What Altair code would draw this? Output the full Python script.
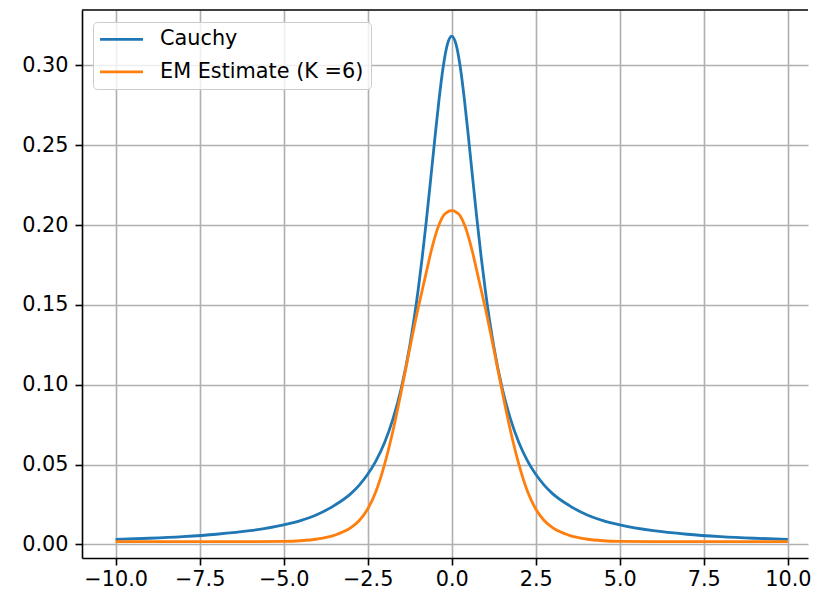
import altair as alt
import pandas as pd

x_vals = [-10, -9, -8, -7, -6, -5, -4.5, -4, -3.5, -3, -2.75, -2.5, -2.25, -2,
          -1.75, -1.5, -1.25, -1, -0.875, -0.75, -0.625, -0.5, -0.375, -0.25,
          -0.125, 0, 0.125, 0.25, 0.375, 0.5, 0.625, 0.75, 0.875, 1, 1.25, 1.5,
          1.75, 2, 2.25, 2.5, 2.75, 3, 3.5, 4, 4.5, 5, 6, 7, 8, 9, 10]

cauchy = [0.00315, 0.00388, 0.00490, 0.00637, 0.00860, 0.01224, 0.01492, 0.01872,
          0.02431, 0.03183, 0.03718, 0.04390, 0.05250, 0.06366, 0.07846, 0.09794,
          0.12420, 0.15915, 0.18028, 0.20372, 0.22890, 0.25465, 0.27906, 0.29959,
          0.31341, 0.31831, 0.31341, 0.29959, 0.27906, 0.25465, 0.22890, 0.20372,
          0.18028, 0.15915, 0.12420, 0.09794, 0.07846, 0.06366, 0.05250, 0.04390,
          0.03718, 0.03183, 0.02431, 0.01872, 0.01492, 0.01224, 0.00860, 0.00637,
          0.00490, 0.00388, 0.00315]

em_estimate = [0.0018, 0.0018, 0.0018, 0.0018, 0.0018, 0.0019, 0.0023, 0.0034,
               0.0057, 0.0105, 0.0150, 0.0222, 0.0335, 0.0500, 0.0710, 0.0960,
               0.1225, 0.1480, 0.1595, 0.1710, 0.1825, 0.1925, 0.2003, 0.2058,
               0.2082, 0.2090, 0.2082, 0.2058, 0.2003, 0.1925, 0.1825, 0.1710,
               0.1595, 0.1480, 0.1225, 0.0960, 0.0710, 0.0500, 0.0335, 0.0222,
               0.0150, 0.0105, 0.0057, 0.0034, 0.0023, 0.0019, 0.0018, 0.0018,
               0.0018, 0.0018, 0.0018]

series_names = ["Cauchy", "EM Estimate (K =6)"]
series_colors = ["#1f77b4", "#ff7f0e"]
x_ticks = [-10.0, -7.5, -5.0, -2.5, 0.0, 2.5, 5.0, 7.5, 10.0]
y_ticks = [0.00, 0.05, 0.10, 0.15, 0.20, 0.25, 0.30]

rows = []
for name, ys in zip(series_names, [cauchy, em_estimate]):
    for i, (xv, yv) in enumerate(zip(x_vals, ys)):
        rows.append({"x": xv, "y": yv, "series": name, "order": i})
df = pd.DataFrame(rows)

W, H = 726, 548
FONT = "DejaVu Sans"
FS = 20.8

lines = alt.Chart(df).mark_line(strokeWidth=2.8, interpolate="monotone").encode(
    x=alt.X("x:Q",
            scale=alt.Scale(domain=[-11, 10.6], nice=False, zero=False),
            axis=alt.Axis(values=x_ticks, format=".1f", title=None, labelPadding=4)),
    y=alt.Y("y:Q",
            scale=alt.Scale(domain=[-0.0085, 0.3347], nice=False, zero=False),
            axis=alt.Axis(values=y_ticks, format=".2f", title=None, labelPadding=7)),
    color=alt.Color("series:N",
                    scale=alt.Scale(domain=series_names, range=series_colors),
                    legend=alt.Legend(title=None)),
    order="order:Q",
)

top_spine = alt.Chart(pd.DataFrame({"a": [0]})).mark_rule(
    color="black", strokeWidth=1.6
).encode(x=alt.value(0), x2=alt.value(W), y=alt.value(0))

chart = alt.layer(lines, top_spine).properties(
    width=W, height=H,
    autosize=alt.AutoSizeParams(type="none"),
    padding={"left": 74, "top": 2, "right": 4, "bottom": 31},
).configure_view(
    stroke=None
).configure_axis(
    domainColor="black", domainWidth=1.6,
    tickColor="black", tickWidth=1.6, tickSize=7,
    gridColor="#b0b0b0", gridWidth=1.6,
    labelFont=FONT, labelFontSize=FS, labelColor="black",
).configure_legend(
    orient="none", legendX=11, legendY=12, padding=7,
    fillColor="rgba(255,255,255,0.8)", strokeColor="#cccccc", cornerRadius=4,
    symbolType="M-2.53,0H2.53", symbolSize=289, symbolStrokeWidth=2.8,
    symbolOffset=11.1, labelOffset=28.1, rowPadding=10.4,
    labelFont=FONT, labelFontSize=FS, labelColor="black", labelLimit=400,
)

chart.save("out.html", embed_options={"renderer": "svg", "actions": False})
